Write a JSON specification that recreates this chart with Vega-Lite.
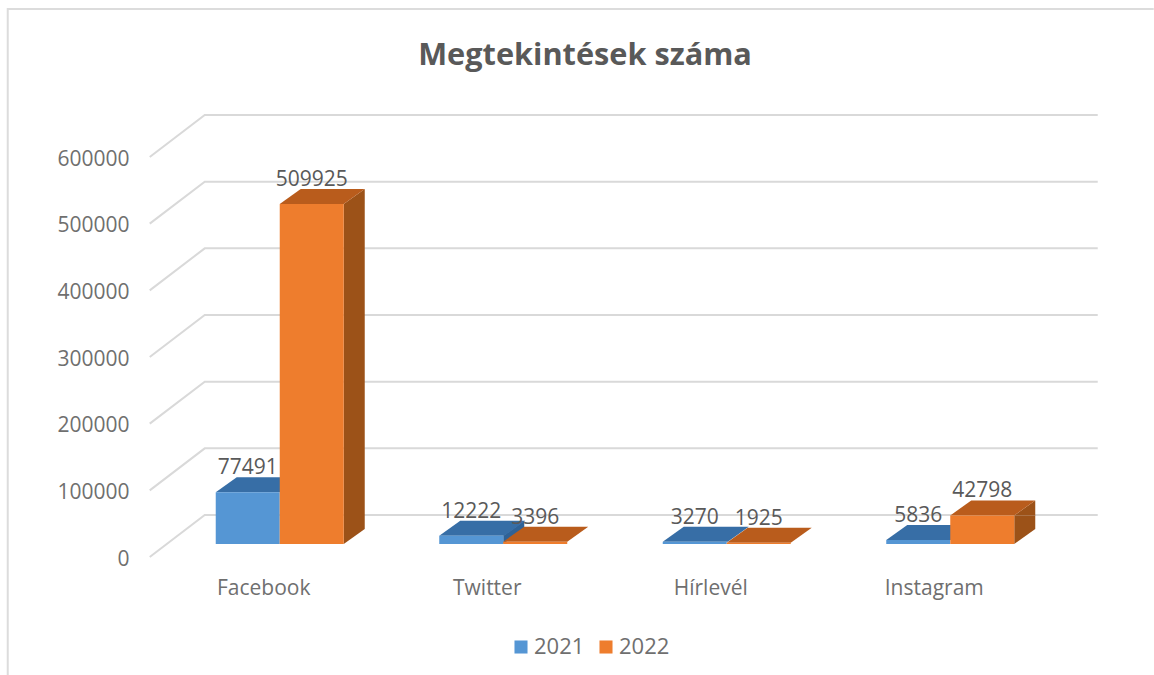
{"$schema":"https://vega.github.io/schema/vega-lite/v6.json","width":894,"height":400,"autosize":"none","padding":{"left":168,"top":144,"right":92,"bottom":131},"background":"white",
"config":{"view":{"stroke":null}},
"title":{"text":"Megtekintések száma","anchor":"middle","dx":-30,"offset":-67,"font":"Open Sans","fontSize":30.7,"fontWeight":"bold","color":"#595959"},
"datasets":{"bars":[
{"platform":"Facebook","year":"2021","value":77491},{"platform":"Facebook","year":"2022","value":509925},
{"platform":"Twitter","year":"2021","value":12222},{"platform":"Twitter","year":"2022","value":3396},
{"platform":"Hírlevél","year":"2021","value":3270},{"platform":"Hírlevél","year":"2022","value":1925},
{"platform":"Instagram","year":"2021","value":5836},{"platform":"Instagram","year":"2022","value":42798}],
"ticks":[{"platform":"Facebook","tick":0},{"platform":"Facebook","tick":100000},{"platform":"Facebook","tick":200000},{"platform":"Facebook","tick":300000},{"platform":"Facebook","tick":400000},{"platform":"Facebook","tick":500000},{"platform":"Facebook","tick":600000}]},
"data":{"name":"bars"},
"encoding":{
"x":{"field":"platform","type":"nominal","sort":["Facebook","Twitter","Hírlevél","Instagram"],"scale":{"paddingInner":0.4273,"paddingOuter":0.2136},"axis":{"title":null,"labelAngle":0,"labelOffset":-16,"labelPadding":33,"labelFont":"Open Sans","labelFontSize":21,"labelColor":"#6f6f6f","domain":false,"ticks":false,"grid":false}},
"y":{"field":"value","type":"quantitative","scale":{"domain":[0,600000],"nice":false},"axis":{"title":null,"values":[0,100000,200000,300000,400000,500000,600000],"format":"d","labelOffset":15,"labelPadding":39,"labelFont":"Open Sans","labelFontSize":21,"labelColor":"#6f6f6f","domain":false,"ticks":false,"grid":false}}},
"layer":[
{"data":{"name":"ticks"},"mark":{"type":"point","shape":"M-130 13 L-75 -29 H818","size":4,"filled":false,"stroke":"#d9d9d9","strokeWidth":2,"opacity":1},"encoding":{"x":{"field":"platform","type":"nominal"},"y":{"field":"tick","type":"quantitative"}}},
{"data":{"values":[{"platform":"Facebook","v":0}]},"mark":{"type":"point","shape":"M-272 131 V-535 H874","size":4,"filled":false,"stroke":"#dcdcdc","strokeWidth":2,"opacity":1},"encoding":{"x":{"field":"platform","type":"nominal"},"y":{"field":"v","type":"quantitative"}}},
{"transform":[{"filter":"datum.year=='2022' && datum.value>30000"}],"mark":{"type":"rule","strokeWidth":21,"color":"#9c5218","xOffset":74.5,"y2Offset":-15},"encoding":{"y2":{"datum":0}}},
{"transform":[{"filter":"datum.year=='2022' && datum.value>30000"}],"mark":{"type":"point","shape":"M32 -15 H53 L32 0 Z","size":4,"filled":true,"fill":"#9c5218","strokeWidth":0,"opacity":1},"encoding":{"xOffset":{"field":"year","type":"nominal"},"y":{"datum":0}}},
{"transform":[{"filter":"datum.year=='2022' && datum.value>30000"}],"mark":{"type":"point","shape":"M32 0 L53 -15 V0 Z","size":4,"filled":true,"fill":"#9c5218","strokeWidth":0,"opacity":1},"encoding":{"xOffset":{"field":"year","type":"nominal"}}},
{"transform":[{"filter":"datum.value==12222"}],"mark":{"type":"point","shape":"M32 0 L53 -15 V-7 L32 8 Z","size":4,"filled":true,"fill":"#2f6296","strokeWidth":0,"opacity":1},"encoding":{"xOffset":{"field":"year","type":"nominal"}}},
{"transform":[{"filter":"datum.year=='2021'"}],"mark":{"type":"point","shape":"M-32 0 H33 L54 -15 H-11 Z","size":4,"filled":true,"fill":"#376ea6","strokeWidth":0,"opacity":1},"encoding":{"xOffset":{"field":"year","type":"nominal"}}},
{"transform":[{"filter":"datum.year=='2022'"}],"mark":{"type":"point","shape":"M-32 0 H32 L53 -15 H-11 Z","size":4,"filled":true,"fill":"#b95c1c","strokeWidth":0,"opacity":1},"encoding":{"xOffset":{"field":"year","type":"nominal"}}},
{"mark":{"type":"bar"},"encoding":{"xOffset":{"field":"year","type":"nominal"},"y":{"field":"value","type":"quantitative","stack":null},"color":{"field":"year","type":"nominal","scale":{"domain":["2021","2022"],"range":["#5596d4","#ee7d2d"]},"legend":{"orient":"none","legendX":342,"legendY":492,"direction":"horizontal","title":null,"symbolType":"square","symbolSize":170,"symbolStrokeWidth":0,"labelFont":"Open Sans","labelFontSize":22,"labelColor":"#6f6f6f","columnPadding":10,"labelOffset":2}}}},
{"mark":{"type":"text","dy":-24,"font":"Open Sans","fontSize":21,"color":"#595959","baseline":"middle"},"encoding":{"xOffset":{"field":"year","type":"nominal"},"text":{"field":"value","type":"quantitative","format":"d"}}}
]}
